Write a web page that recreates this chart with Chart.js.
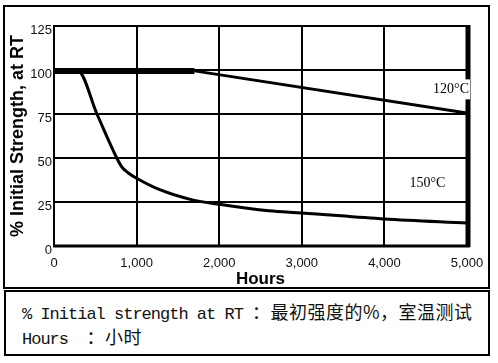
<!DOCTYPE html>
<html>
<head>
<meta charset="utf-8">
<script src="https://cdn.jsdelivr.net/npm/chart.js@4"></script>
<style>
  body { margin: 0; background: #fff; width: 498px; height: 363px; position: relative; overflow: hidden; }
  #chartBox { position: absolute; left: 3px; top: 5px; width: 483px; height: 280px; border: 2px solid #000; }
  #chartWrap { position: absolute; left: 0; top: 0; width: 498px; height: 290px; }
  #noteBox { position: absolute; left: 4px; top: 290px; width: 482px; height: 62px; border: 2px solid #000; }
  .note { position: absolute; left: 16px; font-family: "Liberation Mono", monospace; font-size: 17px; letter-spacing: -1px; color: #111; white-space: pre; }
  .cjk { font-family: "Noto Sans CJK SC", sans-serif; font-size: 18px; letter-spacing: 0.5px; }
</style>
</head>
<body>
<div id="chartBox"></div>
<div id="chartWrap"><canvas id="strengthChart"></canvas></div>
<div id="noteBox">
  <div class="note" style="top:6px;">% Initial strength at RT <span class="cjk">：最初强度的%，室温测试</span></div>
  <div class="note" style="top:31px;">Hours  <span class="cjk">：小时</span></div>
</div>
<script>
var hours120 = [0, 1700, 5000];
var strength120 = [99.5, 99.5, 75.5];
var hours150 = [0, 290, 520, 760, 820, 900, 1000, 1280, 1650, 2000, 2600, 3000, 4000, 5000];
var strength150 = [99.5, 99.5, 75, 50, 45, 41.5, 38.5, 32, 26.5, 23.7, 20, 18.8, 15.3, 13];
var hourTicks = [0, 1000, 2000, 3000, 4000, 5000];
var strengthTicks = [0, 25, 50, 75, 100, 125];
var curveLabels = ["120°C", "150°C"];

function toPoints(xs, ys) {
  return xs.map(function (x, i) {
    return { x: x, y: ys[i] };
  });
}

// thick right/bottom frame + the two temperature labels
var framePlugin = {
  id: "frame",
  beforeDatasetsDraw: function (chart) {
    var ctx = chart.ctx;
    var a = chart.chartArea;
    ctx.save();
    ctx.strokeStyle = "#000";
    ctx.lineWidth = 5;
    ctx.beginPath();
    ctx.moveTo(a.right + 1, a.top - 1);
    ctx.lineTo(a.right + 1, a.bottom + 1);
    ctx.stroke();
    ctx.lineWidth = 3;
    ctx.beginPath();
    ctx.moveTo(a.left - 1, a.bottom);
    ctx.lineTo(a.right + 3, a.bottom);
    ctx.stroke();
    ctx.restore();
  },
  afterDatasetsDraw: function (chart) {
    var ctx = chart.ctx;
    var xs = chart.scales.x;
    var ys = chart.scales.y;
    ctx.save();
    ctx.font = '14px "Liberation Serif", serif';
    ctx.textBaseline = "middle";
    var w = ctx.measureText(curveLabels[0]).width;
    var rx = xs.getPixelForValue(5000) + 3;
    var ry = ys.getPixelForValue(89);
    ctx.fillStyle = "#fff";
    ctx.fillRect(rx - w - 4, ry - 10, w + 4, 20);
    ctx.fillStyle = "#000";
    ctx.textAlign = "right";
    ctx.fillText(curveLabels[0], rx - 1, ry);
    ctx.textAlign = "center";
    ctx.fillText(curveLabels[1], xs.getPixelForValue(4520), ys.getPixelForValue(35.5));
    ctx.restore();
  },
};

var ctx = document.getElementById("strengthChart").getContext("2d");
var strengthChart = new Chart(ctx, {
  type: "line",
  data: {
    datasets: [
      {
        label: curveLabels[0],
        data: toPoints(hours120, strength120),
        borderColor: "#000",
        borderWidth: 3,
        pointRadius: 0,
        segment: {
          borderWidth: function (c) {
            return c.p0DataIndex === 0 ? 6 : 3;
          },
        },
      },
      {
        label: curveLabels[1],
        data: toPoints(hours150, strength150),
        borderColor: "#000",
        borderWidth: 3,
        pointRadius: 0,
        cubicInterpolationMode: "monotone",
      },
    ],
  },
  options: {
    responsive: true,
    maintainAspectRatio: false,
    animation: false,
    layout: { padding: { left: 0, top: 26, right: 31, bottom: 0 } },
    plugins: {
      legend: { display: false },
      tooltip: { enabled: false },
    },
    scales: {
      x: {
        type: "linear",
        min: 0,
        max: 5000,
        afterFit: function (scale) {
          scale.height = 44;
        },
        afterBuildTicks: function (scale) {
          scale.ticks = hourTicks.map(function (v) {
            return { value: v };
          });
        },
        ticks: {
          padding: 10,
          color: "#111",
          font: { family: "Arial, 'Liberation Sans', sans-serif", size: 13 },
          callback: function (v) {
            return v.toLocaleString("en-US");
          },
        },
        grid: { color: "#000", lineWidth: 2, drawTicks: false },
        border: { color: "#000", width: 2 },
        title: {
          display: true,
          text: "Hours",
          color: "#000",
          padding: { top: 0, bottom: 0 },
          font: { family: "Arial, 'Liberation Sans', sans-serif", size: 17, weight: "bold" },
        },
      },
      y: {
        min: 0,
        max: 125,
        afterFit: function (scale) {
          scale.width = 54;
        },
        afterBuildTicks: function (scale) {
          scale.ticks = strengthTicks.map(function (v) {
            return { value: v };
          });
        },
        ticks: {
          padding: 2,
          labelOffset: 4,
          color: "#111",
          font: { family: "Arial, 'Liberation Sans', sans-serif", size: 13 },
        },
        grid: { color: "#000", lineWidth: 2, drawTicks: false },
        border: { color: "#000", width: 2 },
        title: {
          display: true,
          text: "% Initial Strength, at RT",
          color: "#000",
          padding: { top: 7, bottom: 0 },
          font: { family: "Arial, 'Liberation Sans', sans-serif", size: 18, weight: "bold" },
        },
      },
    },
  },
  plugins: [framePlugin],
});
</script>
</body>
</html>
